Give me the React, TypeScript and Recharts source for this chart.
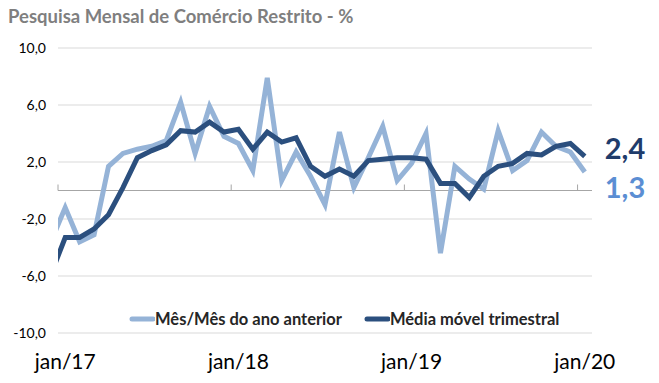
import { LineChart, Line, XAxis, YAxis, CartesianGrid, ReferenceLine, Legend, LabelList } from 'recharts'

// months shown; dez/16 sits just outside the left edge and is clipped like in the source
const MESES = [
  'dez/16',
  'jan/17', 'fev/17', 'mar/17', 'abr/17', 'mai/17', 'jun/17', 'jul/17', 'ago/17', 'set/17', 'out/17', 'nov/17', 'dez/17',
  'jan/18', 'fev/18', 'mar/18', 'abr/18', 'mai/18', 'jun/18', 'jul/18', 'ago/18', 'set/18', 'out/18', 'nov/18', 'dez/18',
  'jan/19', 'fev/19', 'mar/19', 'abr/19', 'mai/19', 'jun/19', 'jul/19', 'ago/19', 'set/19', 'out/19', 'nov/19', 'dez/19',
  'jan/20',
]

// Mês/Mês do ano anterior (%)
const MES_A_MES = [
  -3.6,
  -1.2, -3.6, -3.1, 1.7, 2.6, 2.9, 3.1, 3.5, 6.2, 2.6, 5.9, 3.8,
  3.3, 1.4, 7.9, 0.7, 2.7, 1.0, -1.0, 4.1, 0.2, 2.3, 4.5, 0.7,
  1.9, 4.0, -4.4, 1.7, 0.8, 0.1, 4.2, 1.4, 2.1, 4.1, 3.1, 2.7,
  1.3,
]

// Média móvel trimestral (%)
const MEDIA_MOVEL = [
  -5.9,
  -3.3, -3.3, -2.7, -1.7, 0.2, 2.3, 2.8, 3.2, 4.2, 4.1, 4.8, 4.1,
  4.3, 2.9, 4.1, 3.4, 3.7, 1.7, 1.0, 1.5, 1.0, 2.1, 2.2, 2.3,
  2.3, 2.2, 0.5, 0.5, -0.5, 1.0, 1.7, 1.9, 2.6, 2.5, 3.1, 3.3,
  2.4,
]

const SERIES_NOMES = ['Mês/Mês do ano anterior', 'Média móvel trimestral']

const Y_TICKS = [-10, -6, -2, 2, 6, 10]
const X_TICKS = [0, 12, 24, 36] // jan/17, jan/18, jan/19, jan/20

const COR_CLARA = '#95b3d7'
const COR_ESCURA = '#2b4f7e'

const data = MESES.map((mes, i) => ({
  idx: i - 1,
  mes,
  mesMes: MES_A_MES[i],
  media: MEDIA_MOVEL[i],
}))

const fmt = (v: number) => v.toFixed(1).replace('.', ',')

const endLabel = (color: string, dy: number) => (props: any) => {
  const { x, y, index, value } = props
  if (index !== MESES.length - 1) return null
  return (
    <text x={x + 20} y={y + dy} fill={color} fontSize={29} fontWeight={700} dominantBaseline="central">
      {fmt(value)}
    </text>
  )
}

// keep the source's order (the legend sorts by name otherwise)
const renderLegend = (props: any) => {
  const payload = [...(props.payload || [])].sort(
    (a: any, b: any) => SERIES_NOMES.indexOf(a.value) - SERIES_NOMES.indexOf(b.value),
  )
  return (
    <div style={{ display: 'flex', alignItems: 'center' }}>
      {payload.map((p: any, i: number) => (
        <div key={i} style={{ display: 'flex', alignItems: 'center', marginRight: 22 }}>
          <svg width={26} height={8}>
            <line x1={3} y1={4} x2={24} y2={4} stroke={p.color} strokeWidth={5} strokeLinecap="round" />
          </svg>
          <span style={{ fontWeight: 700, fontSize: 16.5, color: '#262626', whiteSpace: 'nowrap' }}>{p.value}</span>
        </div>
      ))}
    </div>
  )
}

export default function App() {
  return (
    <div
      style={{
        position: 'absolute',
        left: 0,
        top: 0,
        width: 659,
        height: 383,
        background: '#fff',
        fontFamily: 'Lato, sans-serif',
      }}
    >
      <div
        style={{
          position: 'absolute',
          left: 8,
          top: 5,
          fontSize: 18.5,
          fontWeight: 700,
          color: '#7f7f7f',
          whiteSpace: 'nowrap',
          zIndex: 1,
        }}
      >
        Pesquisa Mensal de Comércio Restrito - %
      </div>
      <LineChart width={659} height={383} data={data} margin={{ top: 48, right: 67, left: 8, bottom: 0 }}>
        <CartesianGrid horizontal vertical={false} stroke="#d9d9d9" />
        <XAxis
          dataKey="idx"
          type="number"
          domain={[-0.5, 36.5]}
          allowDataOverflow
          ticks={X_TICKS}
          tickFormatter={(v: number) => MESES[v + 1]}
          axisLine={false}
          tickLine={false}
          height={50}
          tickMargin={15}
          tick={{ fontSize: 21, fill: '#000' }}
        />
        <YAxis
          domain={[-10, 10]}
          ticks={Y_TICKS}
          tickFormatter={fmt}
          axisLine={false}
          tickLine={false}
          width={50}
          tickMargin={6}
          tick={{ fontSize: 14, fill: '#000' }}
        />
        <ReferenceLine y={0} stroke="#a6a6a6" strokeWidth={1} />
        {X_TICKS.map(t => (
          <ReferenceLine
            key={t}
            segment={[{ x: t - 0.5, y: 0 }, { x: t - 0.5, y: 0.42 }]}
            stroke="#a6a6a6"
            strokeWidth={1}
          />
        ))}
        <Legend
          layout="horizontal"
          verticalAlign="middle"
          align="center"
          content={renderLegend}
          wrapperStyle={{ left: 129, top: 309, width: 'auto', height: 'auto' }}
        />
        <Line
          type="linear"
          dataKey="mesMes"
          name={SERIES_NOMES[0]}
          stroke={COR_CLARA}
          strokeWidth={5}
          dot={false}
          isAnimationActive={false}
        >
          <LabelList dataKey="mesMes" content={endLabel('#5b8ed3', 15)} />
        </Line>
        <Line
          type="linear"
          dataKey="media"
          name={SERIES_NOMES[1]}
          stroke={COR_ESCURA}
          strokeWidth={5}
          dot={false}
          isAnimationActive={false}
        >
          <LabelList dataKey="media" content={endLabel('#1f3c6b', -9)} />
        </Line>
      </LineChart>
    </div>
  )
}
